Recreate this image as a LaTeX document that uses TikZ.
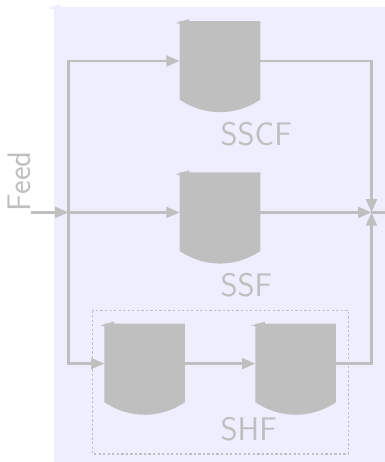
\documentclass[tikz,border=0pt]{standalone}
\usepackage{fontspec}
\usetikzlibrary{arrows.meta}
\definecolor{bgc}{HTML}{EEEEFF}
\definecolor{gc}{HTML}{BFBFBF}
\definecolor{dc}{HTML}{BFBFC2}
\tikzset{
  tankbox/.style={draw=none,inner sep=0pt,minimum width=60.4pt,minimum height=60pt,outer sep=0pt},
  conn/.style={draw=gc,line width=2.1pt,-{Triangle[length=10pt,width=8pt,fill=gc]}},
  plain/.style={draw=gc,line width=2.1pt},
  lbl/.style={text=gc,font=\sffamily\fontsize{24.5}{27}\selectfont,inner sep=0pt,anchor=base west},
}
\newcommand{\tanknode}[3]{%
  \node[tankbox] (#1) at (#2,#3) {};
  \fill[gc] (#1.north west) -- (#1.north east)
     -- ([yshift=-29pt]#1.east)
     .. controls ([shift={(-18.75pt,-41.5pt)}]#1.east) and ([shift={(18.75pt,-41.5pt)}]#1.west)
     .. ([yshift=-29pt]#1.west) -- cycle;
  \fill[gc] ([shift={(-3pt,-1.5pt)}]#1.north west) -- ([shift={(7pt,1.5pt)}]#1.north west)
     -- ([shift={(7pt,-3.5pt)}]#1.north west) -- cycle;
}
\begin{document}
\begin{tikzpicture}[x=0.75pt,y=-0.75pt]
\useasboundingbox (0,0) rectangle (385,462);
% background
\fill[bgc] (54,7) rectangle (385,462);
\fill[bgc] (48,8) -- (60.5,4) -- (60.5,11) -- cycle;
% tanks
\tanknode{a}{220}{61}
\tanknode{b}{220}{212.4}
\tanknode{c}{144.7}{363.6}
\tanknode{d}{295.7}{363.6}
% junctions
\coordinate (in) at (31,212.4);
\coordinate (split) at (68.5,212.4);
\coordinate (mix) at (371.5,212.4);
\coordinate (out) at (385,212.4);
% connectors
\draw[conn] (in) -- (split);
\draw[conn] (split) -- (b.west);
\draw[conn] (split) |- (a.west);
\draw[conn] (split) |- (c.west);
\draw[conn] (c.east) -- (d.west);
\draw[conn] (b.east) -- (mix);
\draw[conn] (a.east) -| (mix);
\draw[conn] (d.east) -| (mix);
\draw[plain] (mix) -- (out);
% SHF box
\draw[dc,line width=0.9pt,dash pattern=on 1.7pt off 1.7pt] (92.5,310.5) rectangle (348.5,454);
% labels
\node[lbl] (l1) at (220.3,145) {SSCF};
\node[lbl] (l2) at (220.3,296) {SSF};
\node[lbl] (l3) at (220.3,440) {SHF};
\node[lbl,rotate=90] (l4) at (30.5,211.5) {Feed};
\end{tikzpicture}
\end{document}
